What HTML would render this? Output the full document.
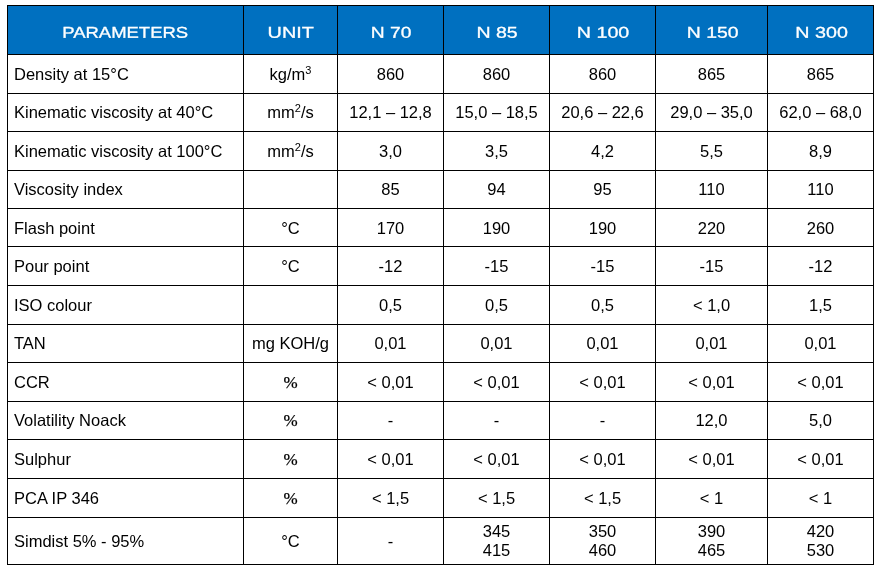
<!DOCTYPE html>
<html><head><meta charset="utf-8"><title>Parameters</title>
<style>
html,body{margin:0;padding:0;background:#fff;}
body{width:883px;height:573px;position:relative;overflow:hidden;font-family:"Liberation Sans",Arial,sans-serif;}
.hl,.vl{position:absolute;background:#000;}
.hd{position:absolute;background:#0070c0;}
.c{position:absolute;display:flex;align-items:center;justify-content:center;color:#000;font-size:16.5px;line-height:19px;text-align:center;white-space:nowrap;}
.c.l{justify-content:flex-start;text-align:left;}
.c sup{font-size:11px;line-height:0;vertical-align:baseline;position:relative;top:-6px;}
.pc{font-family:"Liberation Serif","Times New Roman",serif;font-size:17px;-webkit-text-stroke:0.25px #000;}
.h{color:#fff;font-size:15.7px;}
.h span{display:inline-block;transform-origin:center;-webkit-text-stroke:0.3px #fff;}
</style></head><body>

<div class="hd" style="left:7px;top:5px;width:867px;height:50px"></div>
<div class="c h" style="left:8px;top:6px;width:235px;height:48px"><span style="transform:translate(-0.3px,1.7px) scaleX(1.178) rotate(0.03deg)">PARAMETERS</span></div>
<div class="c h" style="left:244px;top:6px;width:93px;height:48px"><span style="transform:translate(0.4px,1.7px) scaleX(1.265) rotate(0.03deg)">UNIT</span></div>
<div class="c h" style="left:338px;top:6px;width:105px;height:48px"><span style="transform:translate(0.6px,1.7px) scaleX(1.226) rotate(0.03deg)">N 70</span></div>
<div class="c h" style="left:444px;top:6px;width:105px;height:48px"><span style="transform:translate(0.5px,1.7px) scaleX(1.246) rotate(0.03deg)">N 85</span></div>
<div class="c h" style="left:550px;top:6px;width:105px;height:48px"><span style="transform:translate(0.1px,1.7px) scaleX(1.255) rotate(0.03deg)">N 100</span></div>
<div class="c h" style="left:656px;top:6px;width:111px;height:48px"><span style="transform:translate(0.7px,1.7px) scaleX(1.235) rotate(0.03deg)">N 150</span></div>
<div class="c h" style="left:768px;top:6px;width:105px;height:48px"><span style="transform:translate(0.7px,1.7px) scaleX(1.255) rotate(0.03deg)">N 300</span></div>
<div class="c l" style="left:8px;top:55px;width:235px;height:38px;padding-left:6px;box-sizing:border-box">Density at 15°C</div>
<div class="c" style="left:244px;top:55px;width:93px;height:38px"><div>kg/m<sup>3</sup></div></div>
<div class="c" style="left:338px;top:55px;width:105px;height:38px"><div>860</div></div>
<div class="c" style="left:444px;top:55px;width:105px;height:38px"><div>860</div></div>
<div class="c" style="left:550px;top:55px;width:105px;height:38px"><div>860</div></div>
<div class="c" style="left:656px;top:55px;width:111px;height:38px"><div>865</div></div>
<div class="c" style="left:768px;top:55px;width:105px;height:38px"><div>865</div></div>
<div class="c l" style="left:8px;top:94px;width:235px;height:37px;padding-left:6px;box-sizing:border-box">Kinematic viscosity at 40°C</div>
<div class="c" style="left:244px;top:94px;width:93px;height:37px"><div>mm<sup>2</sup>/s</div></div>
<div class="c" style="left:338px;top:94px;width:105px;height:37px"><div>12,1 – 12,8</div></div>
<div class="c" style="left:444px;top:94px;width:105px;height:37px"><div>15,0 – 18,5</div></div>
<div class="c" style="left:550px;top:94px;width:105px;height:37px"><div>20,6 – 22,6</div></div>
<div class="c" style="left:656px;top:94px;width:111px;height:37px"><div>29,0 – 35,0</div></div>
<div class="c" style="left:768px;top:94px;width:105px;height:37px"><div>62,0 – 68,0</div></div>
<div class="c l" style="left:8px;top:132px;width:235px;height:38px;padding-left:6px;box-sizing:border-box">Kinematic viscosity at 100°C</div>
<div class="c" style="left:244px;top:132px;width:93px;height:38px"><div>mm<sup>2</sup>/s</div></div>
<div class="c" style="left:338px;top:132px;width:105px;height:38px"><div>3,0</div></div>
<div class="c" style="left:444px;top:132px;width:105px;height:38px"><div>3,5</div></div>
<div class="c" style="left:550px;top:132px;width:105px;height:38px"><div>4,2</div></div>
<div class="c" style="left:656px;top:132px;width:111px;height:38px"><div>5,5</div></div>
<div class="c" style="left:768px;top:132px;width:105px;height:38px"><div>8,9</div></div>
<div class="c l" style="left:8px;top:171px;width:235px;height:37px;padding-left:6px;box-sizing:border-box">Viscosity index</div>
<div class="c" style="left:338px;top:171px;width:105px;height:37px"><div>85</div></div>
<div class="c" style="left:444px;top:171px;width:105px;height:37px"><div>94</div></div>
<div class="c" style="left:550px;top:171px;width:105px;height:37px"><div>95</div></div>
<div class="c" style="left:656px;top:171px;width:111px;height:37px"><div>110</div></div>
<div class="c" style="left:768px;top:171px;width:105px;height:37px"><div>110</div></div>
<div class="c l" style="left:8px;top:210px;width:235px;height:37px;padding-left:6px;box-sizing:border-box">Flash point</div>
<div class="c" style="left:244px;top:210px;width:93px;height:37px"><div>°C</div></div>
<div class="c" style="left:338px;top:210px;width:105px;height:37px"><div>170</div></div>
<div class="c" style="left:444px;top:210px;width:105px;height:37px"><div>190</div></div>
<div class="c" style="left:550px;top:210px;width:105px;height:37px"><div>190</div></div>
<div class="c" style="left:656px;top:210px;width:111px;height:37px"><div>220</div></div>
<div class="c" style="left:768px;top:210px;width:105px;height:37px"><div>260</div></div>
<div class="c l" style="left:8px;top:247px;width:235px;height:38px;padding-left:6px;box-sizing:border-box">Pour point</div>
<div class="c" style="left:244px;top:247px;width:93px;height:38px"><div>°C</div></div>
<div class="c" style="left:338px;top:247px;width:105px;height:38px"><div>-12</div></div>
<div class="c" style="left:444px;top:247px;width:105px;height:38px"><div>-15</div></div>
<div class="c" style="left:550px;top:247px;width:105px;height:38px"><div>-15</div></div>
<div class="c" style="left:656px;top:247px;width:111px;height:38px"><div>-15</div></div>
<div class="c" style="left:768px;top:247px;width:105px;height:38px"><div>-12</div></div>
<div class="c l" style="left:8px;top:286px;width:235px;height:38px;padding-left:6px;box-sizing:border-box">ISO colour</div>
<div class="c" style="left:338px;top:286px;width:105px;height:38px"><div>0,5</div></div>
<div class="c" style="left:444px;top:286px;width:105px;height:38px"><div>0,5</div></div>
<div class="c" style="left:550px;top:286px;width:105px;height:38px"><div>0,5</div></div>
<div class="c" style="left:656px;top:286px;width:111px;height:38px"><div>&lt; 1,0</div></div>
<div class="c" style="left:768px;top:286px;width:105px;height:38px"><div>1,5</div></div>
<div class="c l" style="left:8px;top:325px;width:235px;height:37px;padding-left:6px;box-sizing:border-box">TAN</div>
<div class="c" style="left:244px;top:325px;width:93px;height:37px"><div>mg KOH/g</div></div>
<div class="c" style="left:338px;top:325px;width:105px;height:37px"><div>0,01</div></div>
<div class="c" style="left:444px;top:325px;width:105px;height:37px"><div>0,01</div></div>
<div class="c" style="left:550px;top:325px;width:105px;height:37px"><div>0,01</div></div>
<div class="c" style="left:656px;top:325px;width:111px;height:37px"><div>0,01</div></div>
<div class="c" style="left:768px;top:325px;width:105px;height:37px"><div>0,01</div></div>
<div class="c l" style="left:8px;top:363px;width:235px;height:38px;padding-left:6px;box-sizing:border-box">CCR</div>
<div class="c" style="left:244px;top:363px;width:93px;height:38px"><div><span class="pc">%</span></div></div>
<div class="c" style="left:338px;top:363px;width:105px;height:38px"><div>&lt; 0,01</div></div>
<div class="c" style="left:444px;top:363px;width:105px;height:38px"><div>&lt; 0,01</div></div>
<div class="c" style="left:550px;top:363px;width:105px;height:38px"><div>&lt; 0,01</div></div>
<div class="c" style="left:656px;top:363px;width:111px;height:38px"><div>&lt; 0,01</div></div>
<div class="c" style="left:768px;top:363px;width:105px;height:38px"><div>&lt; 0,01</div></div>
<div class="c l" style="left:8px;top:401.5px;width:235px;height:37px;padding-left:6px;box-sizing:border-box">Volatility Noack</div>
<div class="c" style="left:244px;top:401.5px;width:93px;height:37px"><div><span class="pc">%</span></div></div>
<div class="c" style="left:338px;top:401.5px;width:105px;height:37px"><div>-</div></div>
<div class="c" style="left:444px;top:401.5px;width:105px;height:37px"><div>-</div></div>
<div class="c" style="left:550px;top:401.5px;width:105px;height:37px"><div>-</div></div>
<div class="c" style="left:656px;top:401.5px;width:111px;height:37px"><div>12,0</div></div>
<div class="c" style="left:768px;top:401.5px;width:105px;height:37px"><div>5,0</div></div>
<div class="c l" style="left:8px;top:440px;width:235px;height:38px;padding-left:6px;box-sizing:border-box">Sulphur</div>
<div class="c" style="left:244px;top:440px;width:93px;height:38px"><div><span class="pc">%</span></div></div>
<div class="c" style="left:338px;top:440px;width:105px;height:38px"><div>&lt; 0,01</div></div>
<div class="c" style="left:444px;top:440px;width:105px;height:38px"><div>&lt; 0,01</div></div>
<div class="c" style="left:550px;top:440px;width:105px;height:38px"><div>&lt; 0,01</div></div>
<div class="c" style="left:656px;top:440px;width:111px;height:38px"><div>&lt; 0,01</div></div>
<div class="c" style="left:768px;top:440px;width:105px;height:38px"><div>&lt; 0,01</div></div>
<div class="c l" style="left:8px;top:479px;width:235px;height:38px;padding-left:6px;box-sizing:border-box">PCA IP 346</div>
<div class="c" style="left:244px;top:479px;width:93px;height:38px"><div><span class="pc">%</span></div></div>
<div class="c" style="left:338px;top:479px;width:105px;height:38px"><div>&lt; 1,5</div></div>
<div class="c" style="left:444px;top:479px;width:105px;height:38px"><div>&lt; 1,5</div></div>
<div class="c" style="left:550px;top:479px;width:105px;height:38px"><div>&lt; 1,5</div></div>
<div class="c" style="left:656px;top:479px;width:111px;height:38px"><div>&lt; 1</div></div>
<div class="c" style="left:768px;top:479px;width:105px;height:38px"><div>&lt; 1</div></div>
<div class="c l" style="left:8px;top:518px;width:235px;height:46px;padding-left:6px;box-sizing:border-box">Simdist 5% - 95%</div>
<div class="c" style="left:244px;top:518px;width:93px;height:46px"><div>°C</div></div>
<div class="c" style="left:338px;top:518px;width:105px;height:46px"><div>-</div></div>
<div class="c" style="left:444px;top:518px;width:105px;height:46px"><div>345<br>415</div></div>
<div class="c" style="left:550px;top:518px;width:105px;height:46px"><div>350<br>460</div></div>
<div class="c" style="left:656px;top:518px;width:111px;height:46px"><div>390<br>465</div></div>
<div class="c" style="left:768px;top:518px;width:105px;height:46px"><div>420<br>530</div></div>
<div class="hl" style="left:7px;top:5px;width:867px;height:1px"></div>
<div class="hl" style="left:7px;top:54px;width:867px;height:1px"></div>
<div class="hl" style="left:7px;top:93px;width:867px;height:1px"></div>
<div class="hl" style="left:7px;top:131px;width:867px;height:1px"></div>
<div class="hl" style="left:7px;top:170px;width:867px;height:1px"></div>
<div class="hl" style="left:7px;top:208px;width:867px;height:1px"></div>
<div class="hl" style="left:7px;top:246px;width:867px;height:1px"></div>
<div class="hl" style="left:7px;top:285px;width:867px;height:1px"></div>
<div class="hl" style="left:7px;top:324px;width:867px;height:1px"></div>
<div class="hl" style="left:7px;top:362px;width:867px;height:1px"></div>
<div class="hl" style="left:7px;top:401px;width:867px;height:1px"></div>
<div class="hl" style="left:7px;top:439px;width:867px;height:1px"></div>
<div class="hl" style="left:7px;top:478px;width:867px;height:1px"></div>
<div class="hl" style="left:7px;top:517px;width:867px;height:1px"></div>
<div class="hl" style="left:7px;top:564px;width:867px;height:1px"></div>
<div class="vl" style="left:7px;top:5px;width:1px;height:560px"></div>
<div class="vl" style="left:243px;top:5px;width:1px;height:560px"></div>
<div class="vl" style="left:337px;top:5px;width:1px;height:560px"></div>
<div class="vl" style="left:443px;top:5px;width:1px;height:560px"></div>
<div class="vl" style="left:549px;top:5px;width:1px;height:560px"></div>
<div class="vl" style="left:655px;top:5px;width:1px;height:560px"></div>
<div class="vl" style="left:767px;top:5px;width:1px;height:560px"></div>
<div class="vl" style="left:873px;top:5px;width:1px;height:560px"></div>
</body></html>
